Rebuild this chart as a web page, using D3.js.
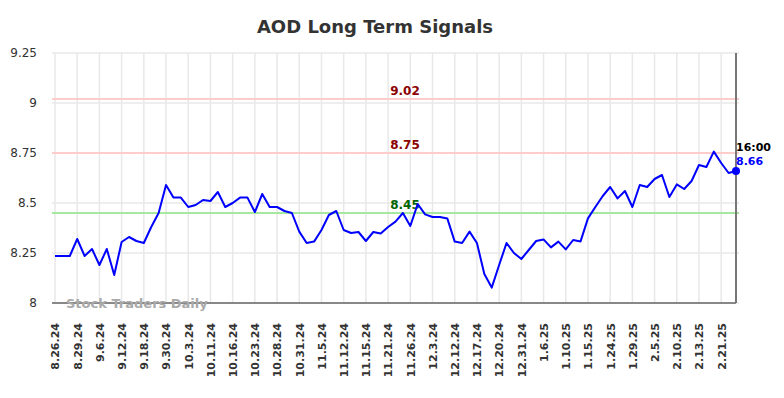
<!DOCTYPE html>
<html>
<head>
<meta charset="utf-8">
<script src="https://cdn.jsdelivr.net/npm/d3@7"></script>
<style>
  body { margin: 0; background: #fff; }
  svg { font-family: "DejaVu Sans", sans-serif; }
</style>
</head>
<body>
<div id="chart"></div>
<script>
// closing prices, one per trading session
var prices = [
  8.235, 8.235, 8.235, 8.32, 8.235, 8.27, 8.19, 8.27, 8.14, 8.305,
  8.33, 8.31, 8.30, 8.38, 8.45, 8.59, 8.527, 8.527, 8.48, 8.49,
  8.515, 8.51, 8.555, 8.48, 8.50, 8.527, 8.527, 8.455, 8.545, 8.48,
  8.48, 8.46, 8.45, 8.357, 8.30, 8.307, 8.365, 8.44, 8.46, 8.365,
  8.35, 8.355, 8.31, 8.355, 8.347, 8.38, 8.407, 8.45, 8.385, 8.495,
  8.443, 8.43, 8.43, 8.423, 8.307, 8.30, 8.357, 8.30, 8.145, 8.077,
  8.19, 8.30, 8.25, 8.22, 8.265, 8.31, 8.318, 8.278, 8.307, 8.268,
  8.315, 8.308, 8.423, 8.48, 8.535, 8.58, 8.523, 8.56, 8.48, 8.59,
  8.58, 8.62, 8.64, 8.53, 8.593, 8.57, 8.61, 8.69, 8.68, 8.757,
  8.70, 8.65, 8.66
];
// one label every third session
var tickLabels = [
  "8.26.24", "8.29.24", "9.6.24", "9.12.24", "9.18.24", "9.30.24", "10.3.24",
  "10.11.24", "10.16.24", "10.23.24", "10.28.24", "10.31.24", "11.5.24",
  "11.12.24", "11.15.24", "11.21.24", "11.26.24", "12.3.24", "12.12.24",
  "12.17.24", "12.20.24", "12.31.24", "1.6.25", "1.10.25", "1.15.25",
  "1.24.25", "1.29.25", "2.5.25", "2.10.25", "2.13.25", "2.21.25"
];
var yTicks = [8, 8.25, 8.5, 8.75, 9, 9.25];
var signalValues = [9.02, 8.75, 8.45];
var signalKinds = ["resist", "resist", "support"];
var lastTime = "16:00";

var width = 784, height = 398;
var plotLeft = 52, plotRight = 736, plotTop = 53, plotBottom = 303;

var svg = d3.select("#chart").append("svg")
  .attr("width", width)
  .attr("height", height);

var x = d3.scaleLinear().domain([0, prices.length - 1]).range([55, plotRight]);
var y = d3.scaleLinear().domain([8, 9.25]).range([plotBottom, plotTop]);
var tickIdx = tickLabels.map(function (d, i) { return i * 3; });

// grid
var grid = svg.append("g");
grid.selectAll("line.v").data(tickIdx).enter().append("line")
  .attr("x1", d => x(d)).attr("x2", d => x(d))
  .attr("y1", plotTop).attr("y2", plotBottom)
  .attr("stroke", "#e8e8e8").attr("stroke-width", 1.5);
grid.selectAll("line.h").data(yTicks).enter().append("line")
  .attr("x1", plotLeft).attr("x2", plotRight + 3)
  .attr("y1", d => y(d)).attr("y2", d => y(d))
  .attr("stroke", "#e8e8e8").attr("stroke-width", 1.5);

// y axis labels
var yAxis = svg.append("g")
  .attr("transform", `translate(${plotLeft - 15},0)`)
  .call(d3.axisLeft(y).tickValues(yTicks).tickSize(0).tickFormat(d => String(d)));
yAxis.select(".domain").remove();
yAxis.selectAll("text")
  .attr("x", 0)
  .style("font-size", "12px")
  .style("font-family", "DejaVu Sans")
  .attr("fill", "#333");

// x axis
var xAxis = svg.append("g")
  .attr("transform", `translate(0,${plotBottom})`)
  .call(d3.axisBottom(x).tickValues(tickIdx).tickSize(0)
    .tickFormat((d, i) => tickLabels[i]));
xAxis.select(".domain").remove();
xAxis.selectAll("text")
  .attr("transform", "rotate(-90)")
  .attr("x", -20)
  .attr("y", 0)
  .attr("dy", "0.35em")
  .style("text-anchor", "end")
  .style("font-size", "11px")
  .style("font-weight", "bold")
  .style("font-family", "DejaVu Sans")
  .attr("fill", "#333");

// signal lines
signalValues.forEach(function (v, i) {
  var resist = signalKinds[i] == "resist";
  svg.append("line")
    .attr("x1", plotLeft).attr("x2", plotRight + 3)
    .attr("y1", y(v)).attr("y2", y(v))
    .attr("stroke", resist ? "#ffcccc" : "#a6e8a0")
    .attr("stroke-width", 2);
  svg.append("text")
    .attr("x", 405).attr("y", y(v) - 4)
    .attr("text-anchor", "middle")
    .style("font-size", "12px")
    .style("font-weight", "bold")
    .attr("fill", resist ? "#8b0000" : "#006400")
    .text(v.toFixed(2));
});

// frame
svg.append("line")
  .attr("x1", plotLeft).attr("x2", plotRight)
  .attr("y1", plotBottom).attr("y2", plotBottom)
  .attr("stroke", "#666").attr("stroke-width", 1.5);
svg.append("line")
  .attr("x1", plotRight).attr("x2", plotRight)
  .attr("y1", plotTop).attr("y2", plotBottom)
  .attr("stroke", "#777").attr("stroke-width", 2);

// watermark
svg.append("text")
  .attr("x", 66).attr("y", 308)
  .style("font-size", "13px")
  .style("font-weight", "bold")
  .attr("fill", "#aaa")
  .text("Stock Traders Daily");

// price line
var line = d3.line().x((d, i) => x(i)).y(d => y(d));
svg.append("path")
  .datum(prices)
  .attr("d", line)
  .attr("fill", "none")
  .attr("stroke", "#0000ff")
  .attr("stroke-width", 2)
  .attr("stroke-linejoin", "round");

var last = prices.length - 1;
svg.append("circle")
  .attr("cx", x(last)).attr("cy", y(prices[last]))
  .attr("r", 4)
  .attr("fill", "#0000ff");
svg.append("text")
  .attr("x", x(last)).attr("y", y(prices[last]) - 20)
  .style("font-size", "11px")
  .style("font-weight", "bold")
  .attr("fill", "#000")
  .text(lastTime);
svg.append("text")
  .attr("x", x(last)).attr("y", y(prices[last]) - 6)
  .style("font-size", "11px")
  .style("font-weight", "bold")
  .attr("fill", "#0000ff")
  .text(prices[last].toFixed(2));

// title
svg.append("text")
  .attr("x", 375).attr("y", 33)
  .attr("text-anchor", "middle")
  .style("font-size", "18px")
  .style("font-weight", "bold")
  .attr("fill", "#333")
  .text("AOD Long Term Signals");
</script>
</body>
</html>
